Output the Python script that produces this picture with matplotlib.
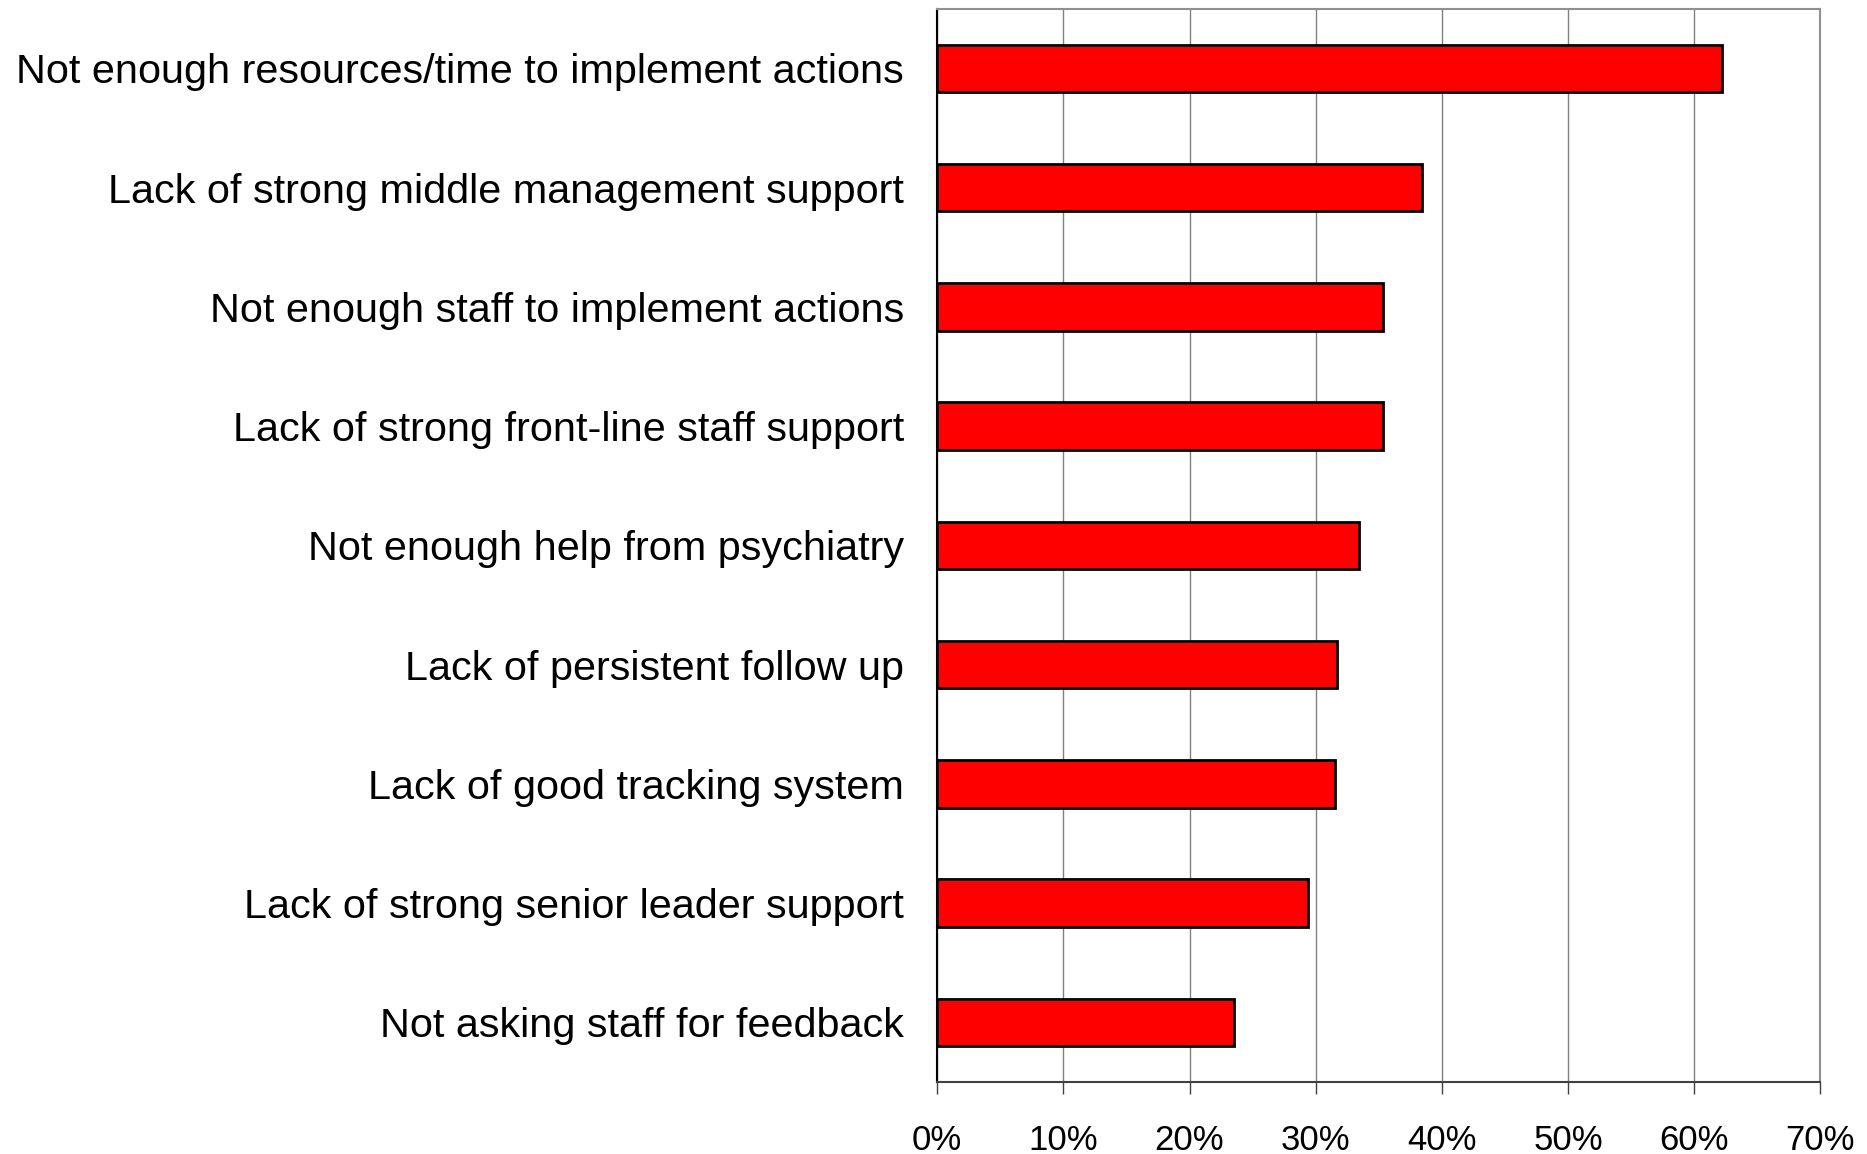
import matplotlib.pyplot as plt
from matplotlib.ticker import FuncFormatter

# Barriers reported, share of respondents (%)
barriers = [
    "Not enough resources/time to implement actions",
    "Lack of strong middle management support",
    "Not enough staff to implement actions",
    "Lack of strong front-line staff support",
    "Not enough help from psychiatry",
    "Lack of persistent follow up",
    "Lack of good tracking system",
    "Lack of strong senior leader support",
    "Not asking staff for feedback",
]
percent = [62.2, 38.4, 35.3, 35.3, 33.4, 31.7, 31.5, 29.4, 23.5]
x_ticks = [0, 10, 20, 30, 40, 50, 60, 70]

plt.rcParams['font.family'] = ['Liberation Sans', 'DejaVu Sans']

fig = plt.figure(figsize=(18.67, 11.54), dpi=100)
ax = fig.add_axes([0.502, 0.0624, 0.473, 0.930])

pos = list(range(len(barriers)))
ax.barh(pos, percent, height=0.40, color='#ff0000', edgecolor='black',
        linewidth=2, zorder=3)

ax.set_ylim(len(barriers) - 0.5, -0.5)
ax.set_xlim(0, 70)
ax.set_yticks(pos)
ax.set_yticklabels(barriers, fontsize=29.8)
ax.tick_params(axis='y', length=0, pad=24)

ax.set_xticks(x_ticks)
ax.xaxis.set_major_formatter(FuncFormatter(lambda v, _: f"{v:.0f}%"))
ax.tick_params(axis='x', labelsize=25, length=8.5, width=1, color='#404040',
               direction='out', pad=22)

ax.grid(axis='x', color='#808080', linewidth=1, zorder=0)
ax.set_axisbelow(True)

ax.spines['left'].set_color('black')
ax.spines['left'].set_linewidth(1.5)
ax.spines['bottom'].set_color('#404040')
ax.spines['bottom'].set_linewidth(1.5)
for side in ('top', 'right'):
    ax.spines[side].set_color('#909090')
    ax.spines[side].set_linewidth(1.5)

fig.savefig('out.png', dpi=100)
